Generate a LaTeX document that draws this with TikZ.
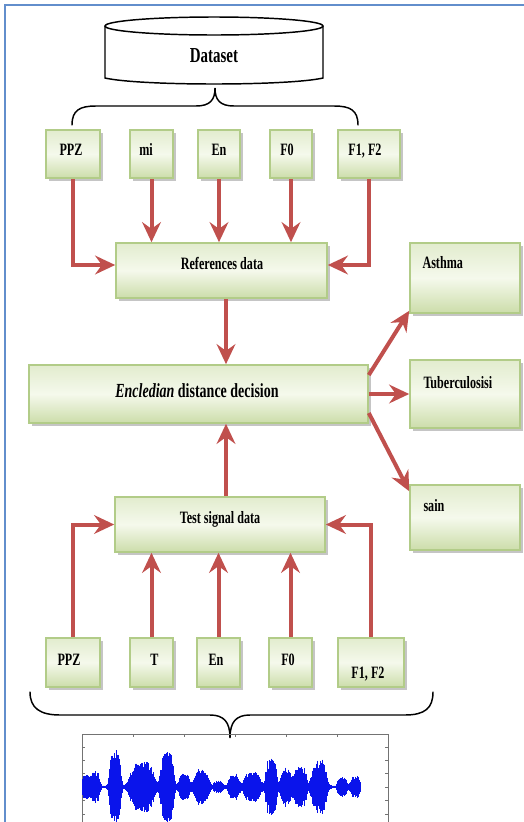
\documentclass[tikz,border=0pt]{standalone}
\usepackage{fontspec}
\setmainfont{Liberation Serif}[FakeStretch=0.7]
\usetikzlibrary{arrows.meta,calc,fit,shadows}

\definecolor{flowred}{RGB}{192,80,77}
\definecolor{boxline}{RGB}{178,204,136}
\definecolor{boxtop}{RGB}{226,236,206}
\definecolor{boxmid}{RGB}{245,249,236}
\definecolor{boxbot}{RGB}{204,221,170}
\definecolor{framblue}{RGB}{98,142,204}
\definecolor{waveblue}{RGB}{10,20,235}

\tikzset{every picture/.style={line width=0.75pt}}
\tikzset{
  databox/.style={draw=boxline, line width=1.2pt, inner sep=0pt,
    top color=boxtop, bottom color=boxbot, middle color=boxmid,
    drop shadow={shadow xshift=2pt, shadow yshift=-2pt, fill=black!45, opacity=0.5}},
  flow/.style={draw=flowred, line width=3pt, -{Stealth[length=15pt,width=14pt,inset=5pt]}},
  boxtext/.style={font=\bfseries\fontsize{13}{15}\selectfont, text height=8.6pt, text depth=0pt, inner sep=0pt},
  brace/.style={line width=1.1pt, line cap=round},
  wave/.style={draw=waveblue, line width=0.6pt},
}

\begin{document}
\begin{tikzpicture}[x=0.75pt,y=0.75pt,yscale=-1,xscale=1,
  declare function={bump(\x,\c,\w)=exp(-min(abs((\x-\c)/\w),1.7)^4);
    env(\x)=1.5+12*bump(\x,86,4)+15*bump(\x,95,5)+38*bump(\x,115,6)+24*bump(\x,142,13)
      +36*bump(\x,167,7)+12*bump(\x,184,6)+17*bump(\x,201,8)+5*bump(\x,218,5)
      +12*bump(\x,234,6)+14*bump(\x,252,9)+27*bump(\x,271,6)+18*bump(\x,286,6)
      +20*bump(\x,300,7)+27*bump(\x,319,8)+9*bump(\x,342,5)+10*bump(\x,355,5);}]
\useasboundingbox (0,0) rectangle (524,822);
\clip (0,0) rectangle (524,822);

%Outer frame
\draw [draw=framblue, line width=1.5pt] (5,5) rectangle (540,840);

%Shape: Can
\draw [fill=white, line width=1.1pt] (105,26) -- (105,78) .. controls (140,86) and (288,86) .. (323,78) -- (323,26) ;
\draw [fill=white, line width=1.1pt] (214,26) ellipse (109 and 9) ;
\node [font=\bfseries\fontsize{16}{18}\selectfont, text height=10.6pt, text depth=0pt, inner sep=0pt] (dataset) at (214,55.5) {Dataset};

%Top brace
\draw [brace] (72,125) .. controls (72,110) and (80,106) .. (96,106) -- (196,106) .. controls (210,106) and (215,100) .. (215,88) .. controls (215,100) and (220,106) .. (234,106) -- (334,106) .. controls (350,106) and (358,110) .. (358,125) ;

%Shapes: feature boxes (dataset side)
\node [databox, fit={(46,130) (100,178)}] (ppzA) {};
\node [databox, fit={(130,130) (173,178)}] (mi) {};
\node [databox, fit={(198,130) (240,178)}] (enA) {};
\node [databox, fit={(270,130) (312,178)}] (f0A) {};
\node [databox, fit={(338,130) (400,178)}] (f12A) {};

%Shapes: main boxes
\node [databox, fit={(116,243) (327,298)}] (refs) {};
\node [databox, fit={(29,365) (368,423)}] (euc) {};
\node [databox, fit={(115,497) (325,552)}] (test) {};

%Shapes: result boxes
\node [databox, fit={(410,243) (520,313)}] (asth) {};
\node [databox, fit={(410,360) (520,428)}] (tub) {};
\node [databox, fit={(410,485) (520,550)}] (sain) {};

%Shapes: feature boxes (signal side)
\node [databox, fit={(46,638) (100,687)}] (ppzB) {};
\node [databox, fit={(130,638) (173,687)}] (tB) {};
\node [databox, fit={(197,638) (240,687)}] (enB) {};
\node [databox, fit={(269,638) (312,687)}] (f0B) {};
\node [databox, fit={(338,638) (404,687)}] (f12B) {};

% Text Node
\node [boxtext] (lppzA) at (71,150) {PPZ};
\node [boxtext] (lmi) at (146,150) {mi};
\node [boxtext] (lenA) at (219,150) {En};
\node [boxtext] (lf0A) at (287,150) {F0};
\node [boxtext] (lf12A) at (365,150) {F1, F2};
\node [boxtext] (lrefs) at (222,264) {References data};
\node [boxtext, font=\bfseries\fontsize{15}{17}\selectfont, text height=9.9pt] (leuc) at (197,391) {\textit{Encledian} distance decision};
\node [boxtext] (ltest) at (220,517.5) {Test signal data};
\node [boxtext, anchor=west] (lasth) at (422,262.5) {Asthma};
\node [boxtext, anchor=west] (ltub) at (423,382.5) {Tuberculosisi};
\node [boxtext, anchor=west] (lsain) at (423,505.5) {sain};
\node [boxtext] (lppzB) at (69,660) {PPZ};
\node [boxtext] (ltB) at (154.5,660) {T};
\node [boxtext] (lenB) at (216,660) {En};
\node [boxtext] (lf0B) at (288,660) {F0};
\node [boxtext] (lf12B) at (368,673) {F1, F2};

%Arrows
\coordinate (spine) at (226,330);
\draw [flow] (ppzA.south) |- ($(refs.west)+(0,-5.5)$) ;
\draw [flow] (mi.south) -- (mi.south |- refs.north) ;
\draw [flow] (enA.south) -- (enA.south |- refs.north) ;
\draw [flow] (f0A.south) -- (f0A.south |- refs.north) ;
\draw [flow] (f12A.south) |- ($(refs.east)+(0,-5.5)$) ;
\draw [flow] (refs.south -| spine) -- (euc.north -| spine) ;
\draw [flow] ($(euc.east)+(0,-19)$) -- ($(asth.south west)+(0,-3)$) ;
\draw [flow] (euc.east) -- (tub.west) ;
\draw [flow] ($(euc.east)+(0,19)$) -- ($(sain.north west)+(0,7)$) ;
\draw [flow] (test.north -| spine) -- (euc.south -| spine) ;
\draw [flow] (ppzB.north) |- (test.west) ;
\draw [flow] (tB.north) -- (tB.north |- test.south) ;
\draw [flow] (enB.north) -- (enB.north |- test.south) ;
\draw [flow] (f0B.north) -- (f0B.north |- test.south) ;
\draw [flow] (f12B.north) |- (test.east) ;

%Bottom brace
\draw [brace] (30,692) .. controls (30,708) and (40,715) .. (60,715) -- (210,715) .. controls (224,715) and (230,722) .. (230,738) .. controls (230,722) and (236,715) .. (250,715) -- (405,715) .. controls (425,715) and (433,708) .. (433,692) ;

%Signal plot
\draw [draw=black!55, line width=0.6pt] (82,734) rectangle (388,840) ;
\foreach \tx in {133,184,235,286,337}{
  \draw [draw=black!55, line width=0.5pt] (\tx,734) -- (\tx,737) ;
}
\foreach \ty in {747,760,773,787,800,814}{
  \draw [draw=black!55, line width=0.5pt] (82,\ty) -- (85,\ty) (388,\ty) -- (385,\ty) ;
}
\pgfmathsetseed{11}
\foreach \i in {0,...,556}{
  \pgfmathsetmacro{\wx}{82+0.5*\i}
  \pgfmathsetmacro{\wa}{env(\wx)*(0.65+0.35*rnd)}
  \draw [wave] (\wx,787-\wa) -- (\wx,787+\wa) ;
}

\end{tikzpicture}
\end{document}
